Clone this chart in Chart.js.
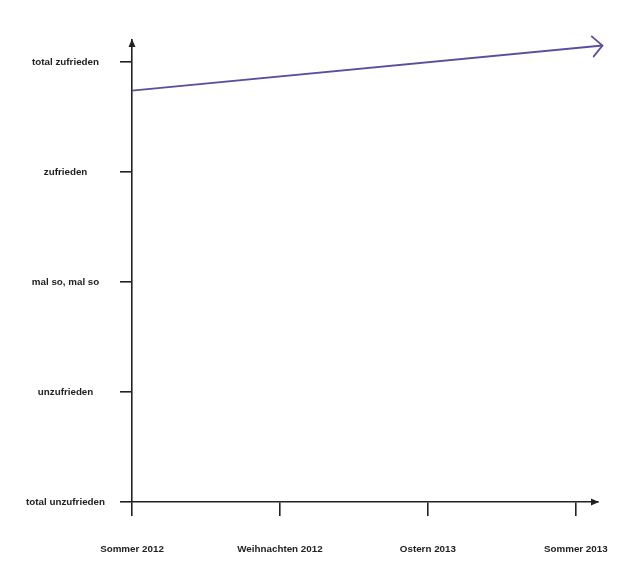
<!DOCTYPE html>
<html>
<head>
<meta charset="utf-8">
<style>
  body { margin: 0; background: #fff; }
</style>
</head>
<body>
<canvas id="myChart" width="640" height="576"></canvas>
<script src="https://cdn.jsdelivr.net/npm/chart.js@4.4.1/dist/chart.umd.min.js"></script>
<script>
    // tick labels
    const xLabels = ["Sommer 2012", "Weihnachten 2012", "Ostern 2013", "Sommer 2013"];
    const yLabels = ["total unzufrieden", "unzufrieden", "mal so, mal so", "zufrieden", "total zufrieden"];

    // the one trend line (x = time index, y = mood level)
    const lineX = [0, 3.18];
    const lineY = [3.74, 4.15];

    const axisColor = "#222";
    const lineColor = "#5a4f9f";
    const fontSpec = { family: "Liberation Sans, Arial, sans-serif", size: 9.8, weight: "bold" };

    // arrow heads on both axes and at the end of the line
    const arrows = {
        id: "arrows",
        afterDatasetsDraw(chart) {
            const ctx = chart.ctx;
            const a = chart.chartArea;
            ctx.save();
            ctx.fillStyle = axisColor;
            // y axis
            ctx.beginPath();
            ctx.moveTo(a.left, a.top - 1);
            ctx.lineTo(a.left - 3.5, a.top + 7);
            ctx.lineTo(a.left + 3.5, a.top + 7);
            ctx.closePath();
            ctx.fill();
            // x axis
            ctx.beginPath();
            ctx.moveTo(a.right + 1, a.bottom);
            ctx.lineTo(a.right - 7, a.bottom - 3.5);
            ctx.lineTo(a.right - 7, a.bottom + 3.5);
            ctx.closePath();
            ctx.fill();

            // open chevron at the end of the line
            const pts = chart.getDatasetMeta(0).data;
            const p0 = pts[pts.length - 2], p1 = pts[pts.length - 1];
            const ang = Math.atan2(p1.y - p0.y, p1.x - p0.x);
            const len = 14, spread = 0.8;
            ctx.strokeStyle = lineColor;
            ctx.lineWidth = 1.8;
            ctx.lineCap = "round";
            ctx.beginPath();
            ctx.moveTo(p1.x - len * Math.cos(ang - spread), p1.y - len * Math.sin(ang - spread));
            ctx.lineTo(p1.x, p1.y);
            ctx.lineTo(p1.x - len * Math.cos(ang + spread), p1.y - len * Math.sin(ang + spread));
            ctx.stroke();
            ctx.restore();
        }
    };

    new Chart("myChart", {
        type: "line",
        data: {
            datasets: [{
                data: lineX.map((x, i) => ({ x: x, y: lineY[i] })),
                borderColor: lineColor,
                borderWidth: 1.8,
                pointRadius: 0,
                clip: false,
                tension: 0
            }]
        },
        options: {
            responsive: false,
            animation: false,
            layout: { padding: { top: 40, right: 42, left: 0, bottom: 0 } },
            plugins: { legend: { display: false }, tooltip: { enabled: false } },
            scales: {
                x: {
                    type: "linear",
                    min: 0,
                    max: 3.15,
                    afterFit(scale) { scale.height = 74; },
                    border: { display: true, color: axisColor, width: 1.6 },
                    grid: { drawOnChartArea: false, drawTicks: true, tickLength: 14, color: axisColor, lineWidth: 1.6 },
                    ticks: {
                        stepSize: 1,
                        includeBounds: false,
                        padding: 27,
                        color: axisColor,
                        font: fontSpec,
                        maxRotation: 0,
                        callback: v => xLabels[v]
                    }
                },
                y: {
                    min: 0,
                    max: 4.2,
                    afterFit(scale) { scale.width = 132; },
                    border: { display: true, color: axisColor, width: 1.6 },
                    grid: { drawOnChartArea: false, drawTicks: true, tickLength: 12, color: axisColor, lineWidth: 1.6 },
                    ticks: {
                        stepSize: 1,
                        includeBounds: false,
                        padding: 15,
                        crossAlign: "center",
                        color: axisColor,
                        font: fontSpec,
                        callback: v => yLabels[v]
                    }
                }
            }
        },
        plugins: [arrows]
    });
</script>
</body>
</html>
